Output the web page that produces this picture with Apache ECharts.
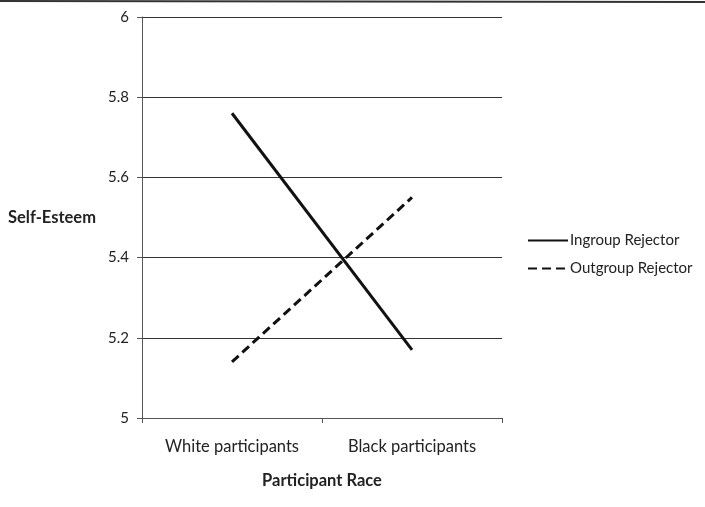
<!DOCTYPE html>
<html>
<head>
<meta charset="utf-8">
<script src="https://cdn.jsdelivr.net/npm/echarts@6/dist/echarts.min.js"></script>
<style>
  html, body { margin: 0; padding: 0; background: #fff; }
  #chart { width: 705px; height: 507px; }
</style>
</head>
<body>
<div id="chart"></div>
<script>
// 横坐标类别
const categories = ['White participants', 'Black participants'];
// 两条线的数据
const ingroupValues = [5.76, 5.17];
const outgroupValues = [5.14, 5.55];
const seriesNames = ['Ingroup Rejector', 'Outgroup Rejector'];

const font = 'Lato, "Open Sans", sans-serif';
const chart = echarts.init(document.getElementById('chart'));

chart.setOption({
  animation: false,
  backgroundColor: '#fff',
  graphic: [{
    type: 'line',
    shape: { x1: 0, y1: 1, x2: 705, y2: 2 },
    style: { stroke: '#333', lineWidth: 2 },
  }],
  grid: { left: 142, right: 203, top: 17, bottom: 89 },
  legend: {
    orient: 'vertical',
    left: 527,
    top: 233,
    padding: 0,
    itemGap: 13,
    itemWidth: 40,
    itemHeight: 18,
    itemStyle: { opacity: 0 },
    textStyle: { fontFamily: font, fontSize: 15, color: '#222', padding: [0, 0, 0, -3] },
    data: seriesNames,
  },
  xAxis: {
    type: 'category',
    data: categories,
    boundaryGap: true,
    name: 'Participant Race',
    nameLocation: 'middle',
    nameGap: 54,
    nameTextStyle: { fontFamily: font, fontSize: 16.5, fontWeight: 'bold', color: '#222' },
    axisLine: { lineStyle: { color: '#555', width: 1 } },
    axisTick: { show: true, length: 5, lineStyle: { color: '#555' } },
    axisLabel: { fontFamily: font, fontSize: 16.5, color: '#222', margin: 20 },
  },
  yAxis: {
    type: 'value',
    min: 5,
    max: 6,
    interval: 0.2,
    name: 'Self-Esteem',
    nameLocation: 'middle',
    nameRotate: 0,
    nameGap: 46,
    nameTextStyle: { fontFamily: font, fontSize: 16.5, fontWeight: 'bold', color: '#222' },
    axisLine: { show: true, lineStyle: { color: '#555', width: 1 } },
    axisTick: { show: true, length: 5, lineStyle: { color: '#555' } },
    axisLabel: {
      fontFamily: font, fontSize: 15, color: '#222', margin: 13,
      formatter: v => String(Math.round(v * 10) / 10),
    },
    splitLine: { show: true, lineStyle: { color: '#333', width: 1 } },
  },
  series: [
    {
      name: seriesNames[0],
      type: 'line',
      data: ingroupValues,
      symbol: 'none',
      lineStyle: { color: '#111', width: 3, type: 'solid' },
      itemStyle: { color: '#111' },
    },
    {
      name: seriesNames[1],
      type: 'line',
      data: outgroupValues,
      symbol: 'none',
      lineStyle: { color: '#111', width: 3, type: [9, 5] },
      itemStyle: { color: '#111' },
    },
  ],
});
</script>
</body>
</html>
